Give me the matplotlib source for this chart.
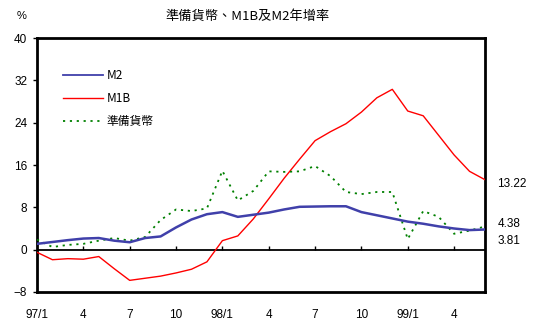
import matplotlib
matplotlib.use("Agg")
import matplotlib.pyplot as plt

# Monthly year-on-year growth rates (%), 1997/1 - 1999/6
months = list(range(30))
tick_pos = [0, 3, 6, 9, 12, 15, 18, 21, 24, 27]
tick_labels = ["97/1", "4", "7", "10", "98/1", "4", "7", "10", "99/1", "4"]

m2 = [1.1, 1.45, 1.8, 2.1, 2.2, 1.7, 1.4, 2.2, 2.5, 4.2,
      5.7, 6.7, 7.1, 6.2, 6.6, 7.0, 7.6, 8.1, 8.15, 8.2,
      8.2, 7.1, 6.5, 5.9, 5.3, 4.9, 4.4, 4.0, 3.7, 3.81]
m1b = [-0.5, -1.9, -1.7, -1.8, -1.3, -3.6, -5.8, -5.4, -5.0, -4.4,
       -3.7, -2.3, 1.7, 2.6, 5.8, 9.6, 13.5, 17.1, 20.6, 22.3,
       23.8, 26.0, 28.7, 30.3, 26.2, 25.3, 21.6, 17.9, 14.8, 13.22]
reserve = [1.9, 0.5, 0.9, 1.1, 1.7, 2.2, 1.7, 2.4, 5.6, 7.6,
           7.3, 7.8, 14.9, 9.3, 11.1, 14.8, 14.7, 14.8, 15.8, 13.9,
           10.9, 10.5, 10.9, 10.9, 2.0, 7.3, 6.2, 3.0, 3.6, 4.38]

cjk = ["Noto Sans CJK TC", "DejaVu Sans"]
num_font = "Liberation Sans"

fig = plt.figure(figsize=(5.44, 3.26), dpi=100)
ax = fig.add_axes([37 / 544, 1 - 292 / 326, 448 / 544, 254 / 326])

ax.plot(months, m2, color="#4040aa", lw=1.8, label="M2", zorder=4)
ax.plot(months, m1b, color="#ff0000", lw=1.0, label="M1B", zorder=3)
ax.plot(months, reserve, color="#008000", lw=1.3, ls=(0, (1.2, 2.6)),
        label="準備貨幣", zorder=3)

ax.set_xlim(0, 29)
ax.set_ylim(-8, 40)
ax.set_yticks([-8, 0, 8, 16, 24, 32, 40])
ax.tick_params(axis="y", direction="out", length=3, width=1, pad=4,
               labelsize=8.5)
for lbl in ax.get_yticklabels():
    lbl.set_fontfamily(num_font)

ax.set_xticks(tick_pos)
ax.set_xticklabels(tick_labels, fontfamily=num_font, fontsize=8.5)
ax.tick_params(axis="x", length=0, pad=12)

# zero line with small upward tick marks
ax.axhline(0, color="black", lw=1.3, zorder=2)
ax.vlines(tick_pos[1:], 0, 0.6, color="black", lw=1.0, zorder=2)

for s in ax.spines.values():
    s.set_linewidth(2.0)
    s.set_color("black")

# end-of-period values
ax.annotate("13.22", xy=(29, m1b[-1]), xytext=(9, -3), textcoords="offset points",
            va="center", ha="left", fontsize=8.5, fontfamily=num_font,
            annotation_clip=False)
ax.annotate("4.38", xy=(29, reserve[-1]), xytext=(9, 2), textcoords="offset points",
            va="center", ha="left", fontsize=8.5, fontfamily=num_font,
            annotation_clip=False)
ax.annotate("3.81", xy=(29, m2[-1]), xytext=(9, -8), textcoords="offset points",
            va="center", ha="left", fontsize=8.5, fontfamily=num_font,
            annotation_clip=False)

leg = ax.legend(loc="upper left", bbox_to_anchor=(0.034, 0.918), frameon=False,
                handlelength=3.4, handletextpad=0.3, labelspacing=0.82,
                prop={"family": cjk, "size": 8.5})
leg.get_lines()[0].set_linewidth(1.3)

fig.text(248 / 544, 1 - 16 / 326, "準備貨幣、M1B及M2年增率", ha="center", va="center",
         fontsize=9.5, family=cjk)
fig.text(22 / 544, 1 - 16 / 326, "%", ha="center", va="center", fontsize=8,
         family=num_font)

fig.savefig("out.png", dpi=100, facecolor="white")
